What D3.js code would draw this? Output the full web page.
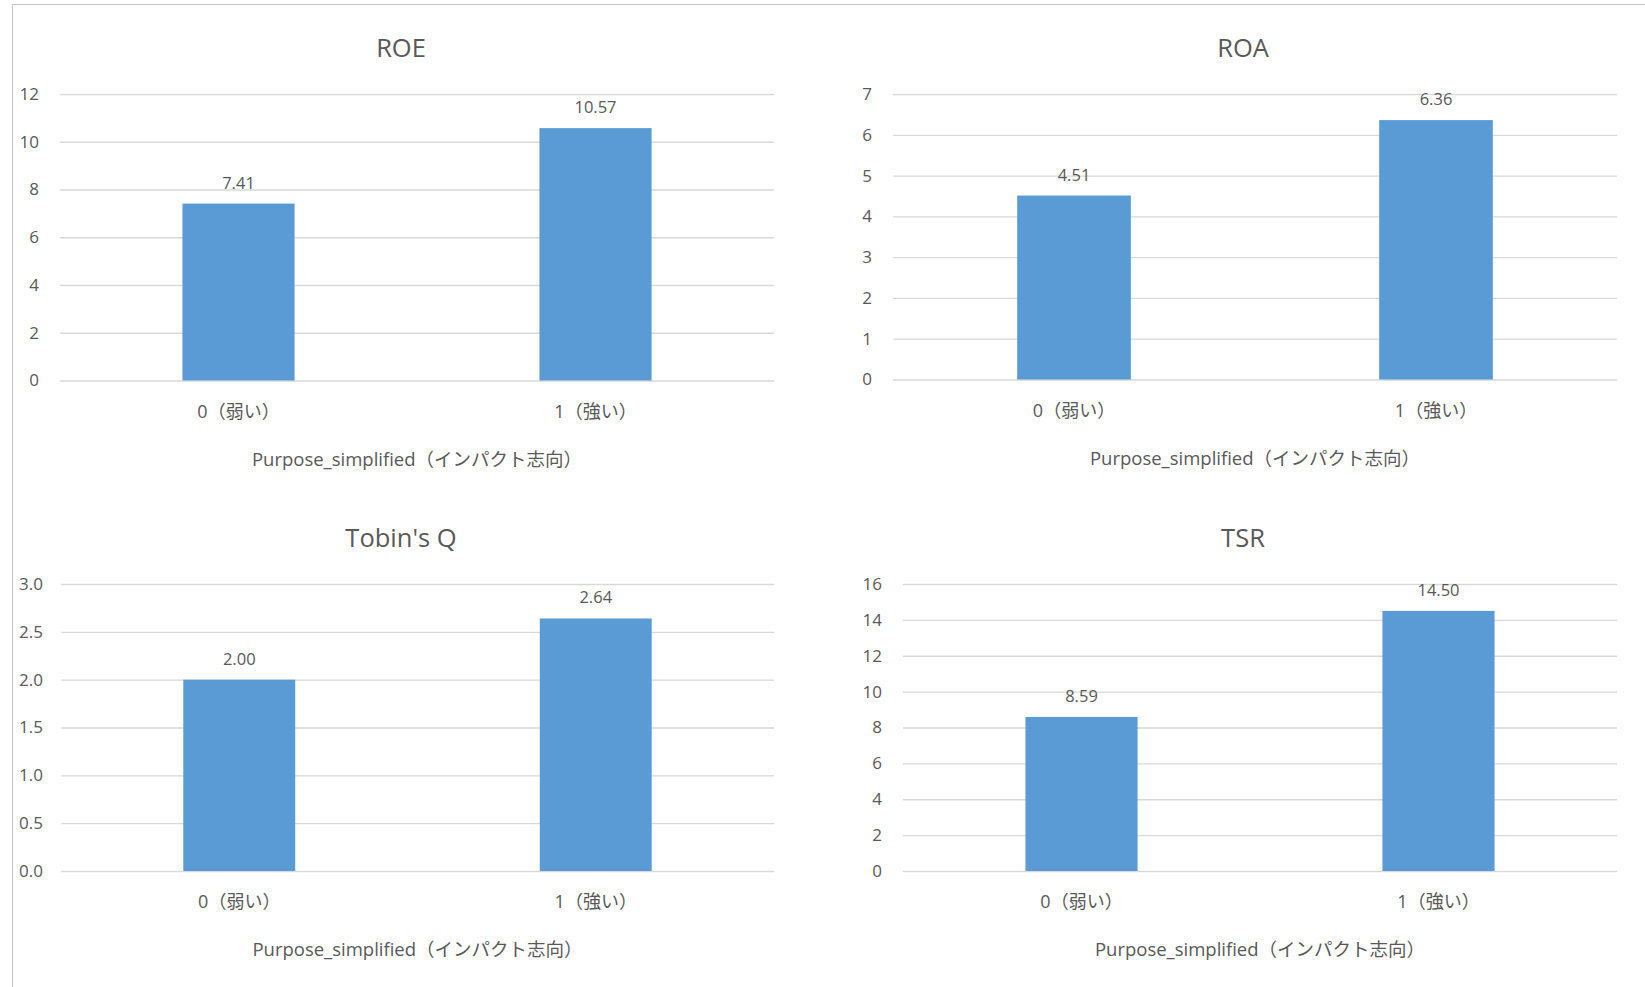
<!DOCTYPE html>
<html lang="ja">
<head>
<meta charset="utf-8">
<title>Purpose_simplified 別 財務指標</title>
<script src="https://cdn.jsdelivr.net/npm/d3@7"></script>
<style>
  html, body { margin: 0; padding: 0; background: #ffffff; }
  svg { display: block; }
  text { font-family: "Open Sans", "Noto Sans CJK JP", sans-serif; fill: #595959; }
</style>
</head>
<body>
<svg id="chart" width="1645" height="987"></svg>
<script>
// ---- data ----
const categories = ["0（弱い）", "1（強い）"];
const axisTitle = "Purpose_simplified（インパクト志向）";

const metricNames = ["ROE", "ROA", "Tobin's Q", "TSR"];

const roeValues   = [7.41, 10.57];
const roaValues   = [4.51, 6.36];
const tobinValues = [2.00, 2.64];
const tsrValues   = [8.59, 14.50];

const roeTicks   = [0, 2, 4, 6, 8, 10, 12];
const roaTicks   = [0, 1, 2, 3, 4, 5, 6, 7];
const tobinTicks = [0, 0.5, 1.0, 1.5, 2.0, 2.5, 3.0];
const tsrTicks   = [0, 2, 4, 6, 8, 10, 12, 14, 16];

// ---- layout of the four panels ----
const panels = [
  { name: metricNames[0], values: roeValues,   ticks: roeTicks,   fmt: d3.format("d"),   x0: 60,  x1: 774,  y0: 94,  y1: 380.5, cx: 401,  titleY: 57,  pad: 21 },
  { name: metricNames[1], values: roaValues,   ticks: roaTicks,   fmt: d3.format("d"),   x0: 893, x1: 1617, y0: 94,  y1: 379.5, cx: 1243, titleY: 57,  pad: 21 },
  { name: metricNames[2], values: tobinValues, ticks: tobinTicks, fmt: d3.format(".1f"), x0: 61,  x1: 774,  y0: 584, y1: 871,   cx: 401,  titleY: 547, pad: 18 },
  { name: metricNames[3], values: tsrValues,   ticks: tsrTicks,   fmt: d3.format("d"),   x0: 903, x1: 1617, y0: 584, y1: 871,   cx: 1243, titleY: 547, pad: 21 }
];

const svg = d3.select("#chart");

// frame lines along the top and left edge
svg.append("line").attr("x1", 12).attr("x2", 1645).attr("y1", 4.5).attr("y2", 4.5)
  .attr("stroke", "#c6c6c6").attr("stroke-width", 1);
svg.append("line").attr("x1", 12.5).attr("x2", 12.5).attr("y1", 4).attr("y2", 987)
  .attr("stroke", "#c6c6c6").attr("stroke-width", 1);

const labelFmt = d3.format(".2f");

panels.forEach(p => {
  const g = svg.append("g");
  const yMax = p.ticks[p.ticks.length - 1];

  const x = d3.scaleBand()
    .domain(categories)
    .range([p.x0, p.x1])
    .paddingInner(0.686)
    .paddingOuter(0.343);

  const y = d3.scaleLinear()
    .domain([0, yMax])
    .range([p.y1, p.y0]);

  // title
  g.append("text")
    .attr("x", p.cx).attr("y", p.titleY)
    .attr("text-anchor", "middle")
    .style("font-size", "25.5px")
    .text(p.name);

  // value axis with gridlines
  const yAxis = d3.axisLeft(y)
    .tickValues(p.ticks)
    .tickFormat(p.fmt)
    .tickSize(-(p.x1 - p.x0))
    .tickPadding(p.pad);

  const ya = g.append("g")
    .attr("transform", `translate(${p.x0},0)`)
    .call(yAxis);
  ya.select(".domain").remove();
  ya.selectAll(".tick line").attr("stroke", "#d9d9d9").attr("stroke-width", 1.3);
  ya.selectAll(".tick text")
    .style("font-size", "17px")
    .attr("fill", "#595959");

  // bars
  g.selectAll("rect.bar")
    .data(p.values)
    .join("rect")
    .attr("class", "bar")
    .attr("x", (d, i) => x(categories[i]))
    .attr("width", x.bandwidth())
    .attr("y", d => y(d))
    .attr("height", d => y(0) - y(d))
    .attr("fill", "#5b9bd5");

  // value labels
  g.selectAll("text.val")
    .data(p.values)
    .join("text")
    .attr("class", "val")
    .attr("x", (d, i) => x(categories[i]) + x.bandwidth() / 2)
    .attr("y", d => y(d) - 15)
    .attr("text-anchor", "middle")
    .style("font-size", "16.5px")
    .attr("fill", "#404040")
    .text(d => labelFmt(d));

  // category axis
  const xAxis = d3.axisBottom(x).tickSize(0).tickPadding(0);
  const xa = g.append("g")
    .attr("transform", `translate(0,${p.y1})`)
    .call(xAxis);
  xa.select(".domain").remove();
  xa.selectAll(".tick text")
    .attr("dy", null)
    .attr("y", 37)
    .style("font-size", "18px")
    .attr("fill", "#595959");

  // category axis title
  g.append("text")
    .attr("x", (p.x0 + p.x1) / 2)
    .attr("y", p.y1 + 85)
    .attr("text-anchor", "middle")
    .style("font-size", "18.5px")
    .text(axisTitle);
});
</script>
</body>
</html>
